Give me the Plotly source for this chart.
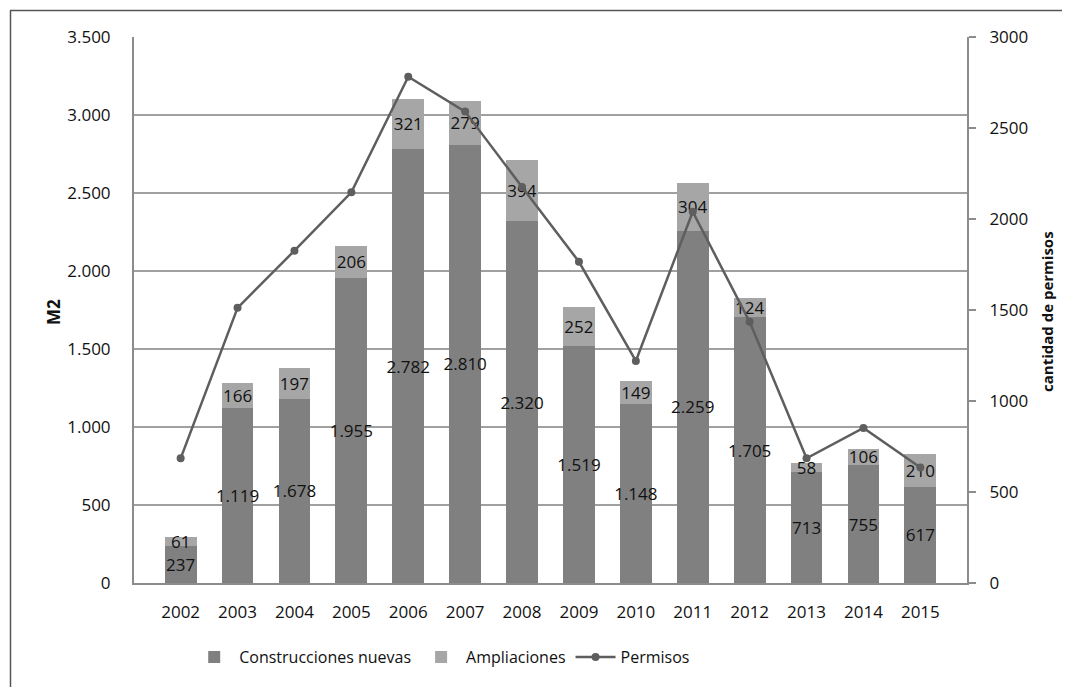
import plotly.graph_objects as go

years = ["2002", "2003", "2004", "2005", "2006", "2007", "2008",
         "2009", "2010", "2011", "2012", "2013", "2014", "2015"]
construcciones = [237, 1119, 1180, 1955, 2782, 2810, 2320, 1519, 1148, 2259, 1705, 713, 755, 617]
construcciones_labels = ["237", "1.119", "1.678", "1.955", "2.782", "2.810", "2.320",
                         "1.519", "1.148", "2.259", "1.705", "713", "755", "617"]
ampliaciones = [61, 166, 197, 206, 321, 279, 394, 252, 149, 304, 124, 58, 106, 210]
ampliaciones_labels = ["61", "166", "197", "206", "321", "279", "394",
                       "252", "149", "304", "124", "58", "106", "210"]
permisos = [685, 1512, 1826, 2147, 2782, 2590, 2176, 1765, 1220, 2040, 1435, 685, 852, 635]

FONT = "Open Sans"
DARK = "#808080"
LIGHT = "#a6a6a6"
LINE = "#5e5e5e"
GRID = "#a0a0a0"
TXT = "#111111"

fig = go.Figure()
fig.add_trace(go.Bar(
    x=years, y=construcciones, name="Construcciones nuevas",
    marker=dict(color=DARK, line=dict(width=0)),
    text=construcciones_labels, textposition="inside", insidetextanchor="middle",
    textangle=0, textfont=dict(family=FONT, size=17, color=TXT),
))
fig.add_trace(go.Bar(
    x=years, y=ampliaciones, name="Ampliaciones",
    marker=dict(color=LIGHT, line=dict(width=0)),
    text=ampliaciones_labels, textposition="inside", insidetextanchor="middle",
    textangle=0, textfont=dict(family=FONT, size=17, color=TXT),
))
fig.add_trace(go.Scatter(
    x=years, y=permisos, name="Permisos", yaxis="y2", mode="lines+markers",
    line=dict(color=LINE, width=2.5), marker=dict(color=LINE, size=8),
))

W, H = 1071, 687
L, R, T, B = 134, 104, 37, 104
pw, ph = W - L - R, H - T - B

def px(x):
    return (x - L) / pw

def py(y):
    return (H - B - y) / ph

fig.update_layout(
    width=W, height=H,
    margin=dict(l=L, r=R, t=T, b=B, pad=0),
    paper_bgcolor="white", plot_bgcolor="white",
    barmode="stack", bargap=0.44,
    separators=",.",
    uniformtext=dict(minsize=17, mode="show"),
    font=dict(family=FONT, size=17, color=TXT),
    showlegend=True,
    legend=dict(orientation="h", x=0.37, xanchor="center", y=py(657), yanchor="middle",
                font=dict(family=FONT, size=16, color=TXT), traceorder="normal",
                itemwidth=40, bgcolor="rgba(0,0,0,0)"),
    xaxis=dict(showline=True, linecolor="#8c8c8c", linewidth=2, ticks="",
               showgrid=False, tickfont=dict(family=FONT, size=17, color=TXT),
               ticklabelstandoff=13),
    yaxis=dict(range=[0, 3500], dtick=500, tickformat=",d", showline=True,
               linecolor="#8c8c8c", linewidth=2, showgrid=True, gridcolor=GRID,
               gridwidth=1.6, ticks="", zeroline=False,
               tickfont=dict(family=FONT, size=17, color=TXT),
               ticklabelstandoff=18),
    yaxis2=dict(range=[0, 3000], dtick=500, tickformat="d", overlaying="y",
                side="right", showline=True, linecolor="#8c8c8c", linewidth=2,
                showgrid=False, zeroline=False, ticks="outside", ticklen=7,
                tickcolor="#8c8c8c", tickwidth=1.5,
                tickfont=dict(family=FONT, size=17, color=TXT),
                ticklabelstandoff=10),
    shapes=[
        dict(type="line", xref="paper", yref="paper", x0=px(10), x1=px(1062),
             y0=py(10.5), y1=py(10.5), line=dict(color="#555555", width=1.5)),
        dict(type="line", xref="paper", yref="paper", x0=px(10.5), x1=px(10.5),
             y0=py(10.5), y1=py(690), line=dict(color="#555555", width=1.5)),
    ],
    annotations=[
        dict(text="<b>M2</b>", xref="paper", yref="paper", x=px(53), y=py(312),
             xanchor="center", yanchor="middle",
             showarrow=False, textangle=-90, font=dict(family=FONT, size=17, color=TXT)),
        dict(text="<b>cantidad de permisos</b>", xref="paper", yref="paper", x=px(1047),
             y=py(312), xanchor="center", yanchor="middle", showarrow=False, textangle=-90,
             font=dict(family=FONT, size=15, color=TXT)),
    ],
)

fig.write_html("out.html")
